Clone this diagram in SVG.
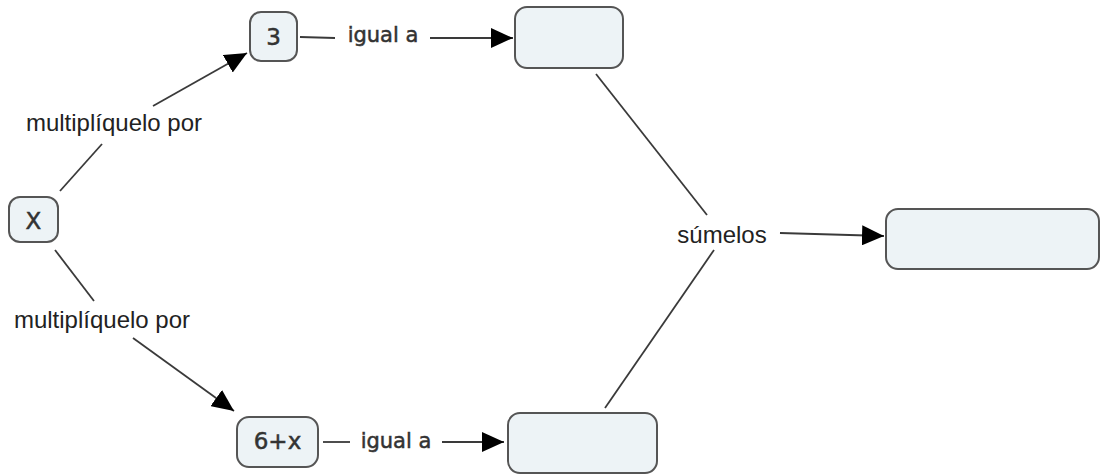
<svg xmlns="http://www.w3.org/2000/svg" width="1101" height="476" viewBox="0 0 1101 476">
  <style>
    .node rect { fill: #edf3f6; stroke: #555; stroke-width: 2; }
    .ntext { font-family: "DejaVu Sans", Verdana, sans-serif; font-size: 23px; fill: #333; stroke: #333; stroke-width: 0.5; text-anchor: middle; }
    .ltext { font-family: "Liberation Sans", Arial, sans-serif; font-size: 24px; fill: #222; text-anchor: middle; }
    .itext { font-family: "DejaVu Sans", Verdana, sans-serif; font-size: 21px; fill: #333; stroke: #333; stroke-width: 0.5; text-anchor: middle; }
    .conn line { stroke: #3a3a3a; stroke-width: 1.8; fill: none; }
  </style>
  <defs>
    <marker id="arrow" viewBox="0 0 22 20" refX="22" refY="10" markerWidth="22" markerHeight="20" markerUnits="userSpaceOnUse" orient="auto">
      <path d="M0,0 L22,10 L0,20 z" fill="#000"/>
    </marker>
  </defs>
  <rect width="1101" height="476" fill="#fff"/>

  <g id="connectors" class="conn">
    <line x1="60" y1="191" x2="102" y2="144"/>
    <line x1="153" y1="106" x2="247" y2="53" marker-end="url(#arrow)"/>
    <line x1="55" y1="250" x2="94" y2="301"/>
    <line x1="133" y1="338" x2="234" y2="411" marker-end="url(#arrow)"/>
    <line x1="300" y1="37" x2="335" y2="38"/>
    <line x1="430" y1="38" x2="513" y2="38" marker-end="url(#arrow)"/>
    <line x1="323" y1="442" x2="350" y2="442"/>
    <line x1="442" y1="442" x2="504" y2="442" marker-end="url(#arrow)"/>
    <line x1="596" y1="74" x2="707" y2="215"/>
    <line x1="714" y1="250" x2="605" y2="408"/>
    <line x1="780" y1="233" x2="884" y2="236" marker-end="url(#arrow)"/>
  </g>

  <g id="labels">
    <text class="ltext" x="114" y="131">multiplíquelo por</text>
    <text class="ltext" x="102" y="328">multiplíquelo por</text>
    <text class="itext" x="383" y="42">igual a</text>
    <text class="itext" x="396" y="448">igual a</text>
    <text class="ltext" x="722" y="243">súmelos</text>
  </g>

  <g id="node-x" class="node">
    <rect x="9" y="197" width="49" height="45" rx="11"/>
    <text class="ntext" x="33.5" y="229">X</text>
  </g>
  <g id="node-3" class="node">
    <rect x="250" y="12" width="47" height="49" rx="11"/>
    <text class="ntext" x="273.5" y="45">3</text>
  </g>
  <g id="node-top" class="node">
    <rect x="515" y="7" width="108" height="61" rx="12"/>
  </g>
  <g id="node-6x" class="node">
    <rect x="237" y="417" width="81" height="50" rx="12"/>
    <text class="ntext" x="277.5" y="449">6+x</text>
  </g>
  <g id="node-bottom" class="node">
    <rect x="508" y="413" width="149" height="60" rx="12"/>
  </g>
  <g id="node-sum" class="node">
    <rect x="886" y="209" width="213" height="60" rx="12"/>
  </g>
</svg>
